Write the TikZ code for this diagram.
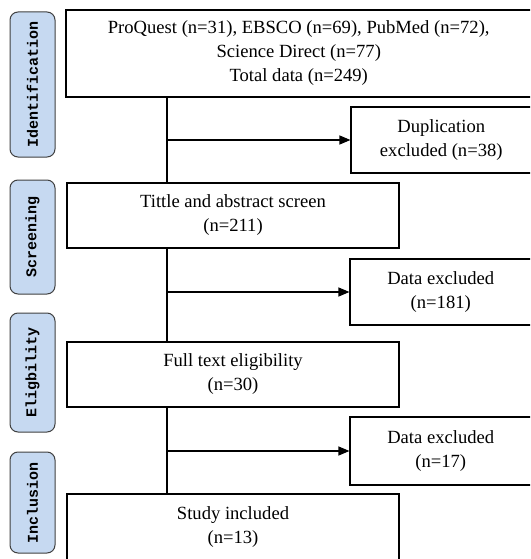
\documentclass[tikz,border=0pt]{standalone}
\usepackage{fontspec}
\setmainfont{Liberation Serif}
\newfontfamily\phasefont{Liberation Mono}
\usetikzlibrary{arrows.meta}
\definecolor{phaseblue}{RGB}{198,217,241}
\tikzset{
    box/.style={draw, line width=1.1pt, align=center, inner sep=0pt,
        font=\fontsize{18.6}{24}\selectfont},
    phase/.style={draw=black!75, fill=phaseblue, line width=1pt, rounded corners=8pt,
        rotate=90, minimum height=45pt, inner sep=0pt,
        font=\phasefont\bfseries\fontsize{15}{18}\selectfont},
    link/.style={line width=1.1pt},
    arr/.style={-{Triangle[length=11pt,width=9pt]}, line width=1.1pt},
}
\begin{document}
\begin{tikzpicture}[x=1pt,y=-1pt]
    \useasboundingbox (0,0) rectangle (530,559);
    \clip (0,0) rectangle (530,559);

    % 左侧阶段标签
    \node[phase, minimum width=145pt] (ident) at (32.5,84.5) {Identification};
    \node[phase, minimum width=114pt] (scr) at (32.5,237) {Screening};
    \node[phase, minimum width=119pt] (elig) at (32.5,372.5) {Eligbility};
    \node[phase, minimum width=101pt] (incl) at (32.5,502.5) {Inclusion};

    % 主流程框
    \node[box, minimum width=465.5pt, minimum height=87pt] (search) at (298.75,53.5)
        {ProQuest (n=31), EBSCO (n=69), PubMed (n=72),\\ Science Direct (n=77)\\ Total data (n=249)};
    \node[box, minimum width=332pt, minimum height=65pt] (screen) at (233,215.5)
        {Tittle and abstract screen\\ (n=211)};
    \node[box, minimum width=332pt, minimum height=65pt] (full) at (233,374.5)
        {Full text eligibility\\ (n=30)};
    \node[box, minimum width=332pt, minimum height=66pt] (study) at (233,527)
        {Study included\\ (n=13)};

    % 排除框
    \node[box, minimum width=180.5pt, minimum height=66pt] (dup) at (441.25,140)
        {Duplication\\ excluded (n=38)};
    \node[box, minimum width=181.5pt, minimum height=66pt] (excl1) at (440.75,292)
        {Data excluded\\ (n=181)};
    \node[box, minimum width=181.5pt, minimum height=68pt] (excl2) at (440.75,451)
        {Data excluded\\ (n=17)};

    % 竖直主线
    \coordinate (trunk) at (167,0);
    \draw[link] (search.south -| trunk) -- (screen.north -| trunk);
    \draw[link] (screen.south -| trunk) -- (full.north -| trunk);
    \draw[link] (full.south -| trunk) -- (study.north -| trunk);

    % 指向排除框的箭头
    \draw[arr] (dup.west -| trunk) -- (dup.west);
    \draw[arr] (excl1.west -| trunk) -- (excl1.west);
    \draw[arr] (excl2.west -| trunk) -- (excl2.west);

\end{tikzpicture}
\end{document}
